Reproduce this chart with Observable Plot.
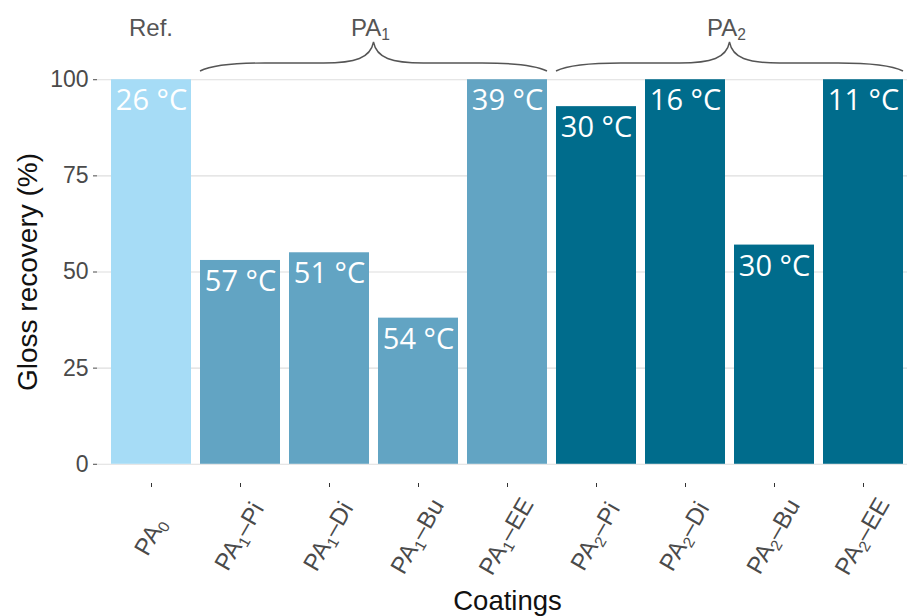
<!DOCTYPE html>
<html>
<head>
<meta charset="utf-8">
<script src="https://cdn.jsdelivr.net/npm/d3@7"></script>
<script src="https://cdn.jsdelivr.net/npm/@observablehq/plot@0.6"></script>
<style>
  html, body { margin: 0; padding: 0; background: #fff; }
  #chart { width: 907px; height: 616px; overflow: hidden; }
</style>
</head>
<body>
<div id="chart"></div>
<script>
// ---- data ----
const coatings = ["PA₀", "PA₁–Pi", "PA₁–Di", "PA₁–Bu", "PA₁–EE", "PA₂–Pi", "PA₂–Di", "PA₂–Bu", "PA₂–EE"];
const recovery = [100, 53, 55, 38, 100, 93, 100, 57, 100];
const temperatures = ["26 °C", "57 °C", "51 °C", "54 °C", "39 °C", "30 °C", "16 °C", "30 °C", "11 °C"];
const groupOf = ["Ref.", "PA₁", "PA₁", "PA₁", "PA₁", "PA₂", "PA₂", "PA₂", "PA₂"];
const groups = ["Ref.", "PA₁", "PA₂"];
const groupColors = ["#a6dcf6", "#62a4c3", "#006c8c"];
const yTicks = [0, 25, 50, 75, 100];
const xTitle = "Coatings";
const yTitle = "Gloss recovery (%)";

const data = coatings.map((c, i) => ({coating: c, recovery: recovery[i], temp: temperatures[i], group: groupOf[i]}));

const uiFont = "'Liberation Sans', Arial, Helvetica, sans-serif";

// braces + group labels drawn from the x band scale
function groupBraces(index, scales, values, dims) {
  const x = scales.x;
  const bw = typeof x.bandwidth === "function" ? x.bandwidth() : (x(coatings[1]) - x(coatings[0])) * 0.9;
  const top = dims.marginTop;
  const g = d3.create("svg:g");
  for (const grp of groups) {
    const members = coatings.filter((c, i) => groupOf[i] === grp);
    const x0 = x(members[0]);
    const x1 = x(members[members.length - 1]) + bw;
    const xm = (x0 + x1) / 2;
    if (members.length > 1) {
      const yEnd = top + 11, yFlat = top + 3, yPeak = top - 18;
      const d = `M${x0},${yEnd} C${x0 + 12},${yFlat + 2} ${x0 + 35},${yFlat} ${x0 + 65},${yFlat}`
        + ` L${xm - 50},${yFlat} C${xm - 18},${yFlat} ${xm - 3},${yFlat - 5} ${xm},${yPeak}`
        + ` C${xm + 3},${yFlat - 5} ${xm + 18},${yFlat} ${xm + 50},${yFlat}`
        + ` L${x1 - 65},${yFlat} C${x1 - 35},${yFlat} ${x1 - 12},${yFlat + 2} ${x1},${yEnd}`;
      g.append("path").attr("d", d).attr("fill", "none").attr("stroke", "#555").attr("stroke-width", 1.4);
    }
    g.append("text")
      .attr("x", members.length > 1 ? xm - 3 : xm).attr("y", top - 24)
      .attr("text-anchor", "middle")
      .attr("font-family", uiFont)
      .attr("font-size", 24)
      .attr("fill", "#555")
      .text(grp);
  }
  return g.node();
}

const chart = Plot.plot({
  width: 907,
  height: 616,
  marginTop: 60,
  marginBottom: 133,
  marginLeft: 97,
  marginRight: 0,
  style: {fontFamily: uiFont, background: "#fff"},
  x: {domain: coatings, range: [109, 905], paddingInner: 0.1, paddingOuter: 0, axis: null},
  y: {domain: [-5, 105], axis: null},
  color: {domain: groups, range: groupColors},
  marks: [
    Plot.gridY(yTicks, {stroke: "#dedede", strokeOpacity: 1, strokeWidth: 1.2}),
    Plot.barY(data, {x: "coating", y: "recovery", fill: "group"}),
    Plot.axisY({ticks: yTicks, tickSize: 4, tickPadding: 5, fontSize: 23, color: "#4a4a4a", label: null}),
    Plot.axisX({tickSize: 4, tickFormat: () => "", label: null, color: "#333"}),
    Plot.text(data, {
      x: "coating", frameAnchor: "bottom", text: "coating",
      rotate: -60, textAnchor: "middle", lineAnchor: "middle",
      dx: -1, dy: 53, fontSize: 24, fill: "#4a4a4a"
    }),
    Plot.text(data, {
      x: "coating", y: "recovery", text: "temp", lineAnchor: "top",
      dy: 10, fill: "white", fontSize: 29, fontFamily: "'Open Sans', sans-serif"
    }),
    Plot.text([yTitle], {
      frameAnchor: "left", dx: -69, rotate: -90, textAnchor: "middle", lineAnchor: "middle",
      fontSize: 28, fill: "#111"
    }),
    Plot.text([xTitle], {
      frameAnchor: "bottom", dx: 5, dy: 126, textAnchor: "middle", lineAnchor: "bottom",
      fontSize: 27.5, fill: "#111"
    }),
    groupBraces
  ]
});

// render Unicode subscript digits as real lowered, smaller tspans
const subMap = {"₀": "0", "₁": "1", "₂": "2"};
chart.querySelectorAll("text").forEach(t => {
  const targets = t.querySelectorAll("tspan").length ? Array.from(t.querySelectorAll("tspan")) : [t];
  targets.forEach(el => {
    const s = el.textContent;
    if (!/[₀₁₂]/.test(s)) return;
    while (el.firstChild) el.removeChild(el.firstChild);
    const parts = s.split(/([₀₁₂])/);
    let lowered = false;
    parts.forEach(p => {
      if (!p) return;
      const ts = document.createElementNS("http://www.w3.org/2000/svg", "tspan");
      if (subMap[p] !== undefined) {
        ts.textContent = subMap[p];
        ts.setAttribute("font-size", "65%");
        ts.setAttribute("dy", "0.28em");
        lowered = true;
      } else {
        ts.textContent = p;
        if (lowered) { ts.setAttribute("dy", "-0.18em"); lowered = false; }
      }
      el.appendChild(ts);
    });
  });
});

document.getElementById("chart").appendChild(chart);
</script>
</body>
</html>
